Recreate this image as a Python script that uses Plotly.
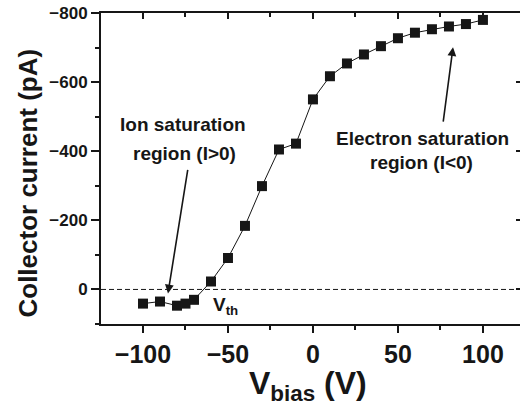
import plotly.graph_objects as go

# Data
v_bias = [-100, -90, -80, -75, -70, -60, -50, -40, -30, -20, -10, 0,
          10, 20, 30, 40, 50, 60, 70, 80, 90, 100]
current = [41, 35, 47, 41, 30, -23, -91, -184, -299, -405, -422, -550,
           -617, -654, -680, -704, -727, -743, -753, -761, -768, -780]

x_tickvals = [-100, -50, 0, 50, 100]
y_tickvals = [-800, -600, -400, -200, 0]


def fmt(v):
    return "\u2212" + str(abs(v)) if v < 0 else str(v)


x_ticktext = [fmt(v) for v in x_tickvals]
y_ticktext = [fmt(v) for v in y_tickvals]

FONT = "Liberation Sans"
INK = "#161616"
x_range = [-124.7, 121.8]
y_range = [100, -800]

fig = go.Figure()
fig.add_trace(go.Scatter(
    x=v_bias, y=current, mode="lines+markers",
    line=dict(color=INK, width=1),
    marker=dict(symbol="square", size=10, color=INK),
    showlegend=False, hoverinfo="skip"))

axis_common = dict(showgrid=False, zeroline=False, linecolor=INK, linewidth=2,
                   tickcolor=INK, tickwidth=2)

fig.update_layout(
    width=520, height=405,
    margin=dict(l=101, r=0, t=13, b=81),
    paper_bgcolor="white", plot_bgcolor="white",
    font=dict(family=FONT, color=INK),
    xaxis=dict(range=x_range, showline=True, ticks="outside", ticklen=7,
               tickvals=x_tickvals, ticktext=x_ticktext,
               tickfont=dict(family=FONT, size=25, weight="bold", color=INK),
               minor=dict(dtick=25, tick0=0, ticks="outside", ticklen=4,
                          tickcolor=INK, tickwidth=2),
               **axis_common),
    yaxis=dict(range=y_range, showline=True, ticks="outside", ticklen=8,
               tickvals=y_tickvals, ticktext=y_ticktext,
               tickfont=dict(family=FONT, size=17, weight="bold", color=INK),
               minor=dict(dtick=100, tick0=0, ticks="outside", ticklen=4,
                          tickcolor=INK, tickwidth=2),
               **axis_common),
    xaxis2=dict(range=x_range, overlaying="x", side="top", anchor="y",
                showline=True, ticks="inside", ticklen=6, tickvals=x_tickvals,
                showticklabels=False,
                minor=dict(dtick=25, tick0=0, ticks="inside", ticklen=4,
                           tickcolor=INK, tickwidth=2),
                **axis_common),
    yaxis2=dict(range=y_range, overlaying="y", side="right", anchor="x",
                showline=False, ticks="inside", ticklen=4, tickvals=y_tickvals,
                showticklabels=False, showgrid=False, zeroline=False,
                tickcolor=INK, tickwidth=2),
)

# invisible trace so the mirrored axes are drawn
fig.add_trace(go.Scatter(x=[None], y=[None], xaxis="x2", yaxis="y2",
                         showlegend=False, hoverinfo="skip"))

# dashed zero line
fig.add_shape(type="line", xref="paper", x0=0, x1=1, yref="y", y0=0, y1=0,
              line=dict(color=INK, width=1, dash="5px,3px"))

lab = dict(family=FONT, size=19, weight="bold", color=INK)
txt = dict(xref="paper", yref="paper", showarrow=False,
           xanchor="center", yanchor="middle")
annotations = [
    dict(text="Collector current (pA)", x=-0.174, y=0.452, textangle=-90,
         font=dict(family=FONT, size=26, weight="bold", color=INK), **txt),
    dict(text="V<sub>bias</sub> (V)", x=0.494, y=-0.197,
         font=dict(family=FONT, size=32, weight="bold", color=INK), **txt),
    dict(text="Ion saturation", x=0.1957, y=0.6415, font=lab, **txt),
    dict(text="region (I>0)", x=0.1993, y=0.5498, font=lab, **txt),
    dict(text="Electron saturation", x=0.7673, y=0.5949, font=lab, **txt),
    dict(text="region (I<0)", x=0.7649, y=0.5209, font=lab, **txt),
    dict(text="V<sub>th</sub>", x=0.2618, y=0.058, xref="paper", yref="paper",
         showarrow=False, xanchor="left", yanchor="middle", font=lab),
    dict(text="", x=-85.3, y=11.6, xref="x", yref="y", showarrow=True,
         ax=20, ay=-125, arrowhead=2, arrowsize=1.1, arrowwidth=1.6,
         arrowcolor=INK),
    dict(text="", x=82.4, y=-701, xref="x", yref="y", showarrow=True,
         ax=-10, ay=76, arrowhead=2, arrowsize=1.1, arrowwidth=1.6,
         arrowcolor=INK),
]
fig.update_layout(annotations=annotations)

fig.write_html("out.html",
               config={"displayModeBar": False},
               post_script="document.body.style.margin='0';"
                           "document.body.style.overflow='hidden';")
